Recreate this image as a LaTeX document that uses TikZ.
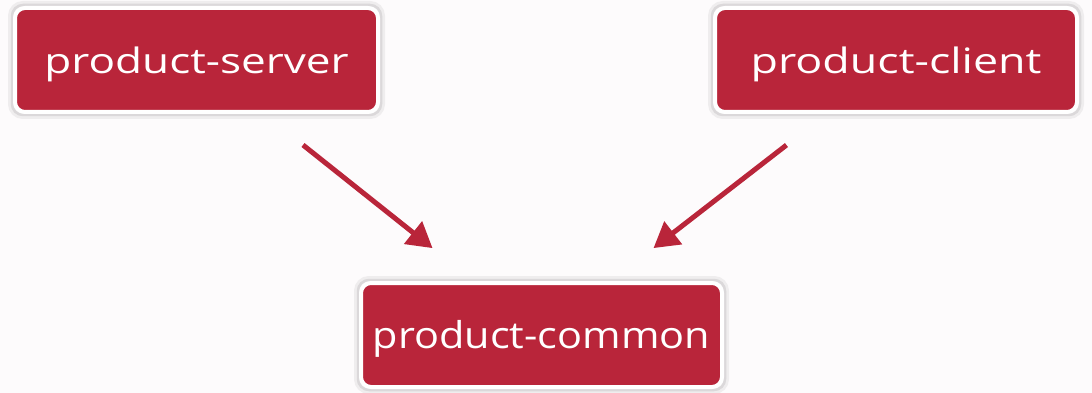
\documentclass[tikz,border=0pt]{standalone}
\usepackage{fontspec}
\setmainfont{Open Sans}
\usetikzlibrary{arrows.meta}
\definecolor{boxred}{HTML}{B9253A}
\definecolor{bgcol}{HTML}{FDFBFC}
\definecolor{halo}{HTML}{D6D3D5}
\begin{document}
\begin{tikzpicture}[x=1pt,y=-1pt,
  module/.style={rounded corners=10pt, fill=boxred, draw=white, line width=4pt,
    minimum height=104pt, outer sep=0pt, text=white, inner sep=0pt,
    text height=26.6pt, text depth=0pt},
  depends/.style={draw=boxred, line width=5pt,
    -{Triangle[length=25pt,width=28pt]}}]
  % canvas
  \fill[bgcol] (0,0) rectangle (1092,393);
  \useasboundingbox (0,0) rectangle (1092,393);
  % soft grey halo around each box
  \foreach \cx/\cy/\w in {196.5/60/363, 896/60/362, 541.5/335/361}{
    \draw[halo, line width=6pt, rounded corners=12pt, opacity=0.35]
      (\cx-\w/2-4,\cy-56) rectangle (\cx+\w/2+4,\cy+56);
    \draw[halo, line width=2.5pt, rounded corners=11pt, opacity=0.8]
      (\cx-\w/2-3,\cy-55) rectangle (\cx+\w/2+3,\cy+55);
  }
  % modules
  \node[module, minimum width=363pt] (server) at (196.5,60)
    {\scalebox{1.26}[1]{\fontsize{35}{38}\selectfont product-server}};
  \node[module, minimum width=362pt] (client) at (896,60)
    {\scalebox{1.28}[1]{\fontsize{35}{38}\selectfont product-client}};
  \node[module, minimum width=361pt] (common) at (541.5,335)
    {\scalebox{1.12}[1]{\fontsize{37}{40}\selectfont product-common}};
  % dependency arrows
  \draw[depends, shorten <=53pt, shorten >=56pt] (server) -- (common);
  \draw[depends, shorten <=54pt, shorten >=57pt] (client) -- (common);
\end{tikzpicture}
\end{document}
